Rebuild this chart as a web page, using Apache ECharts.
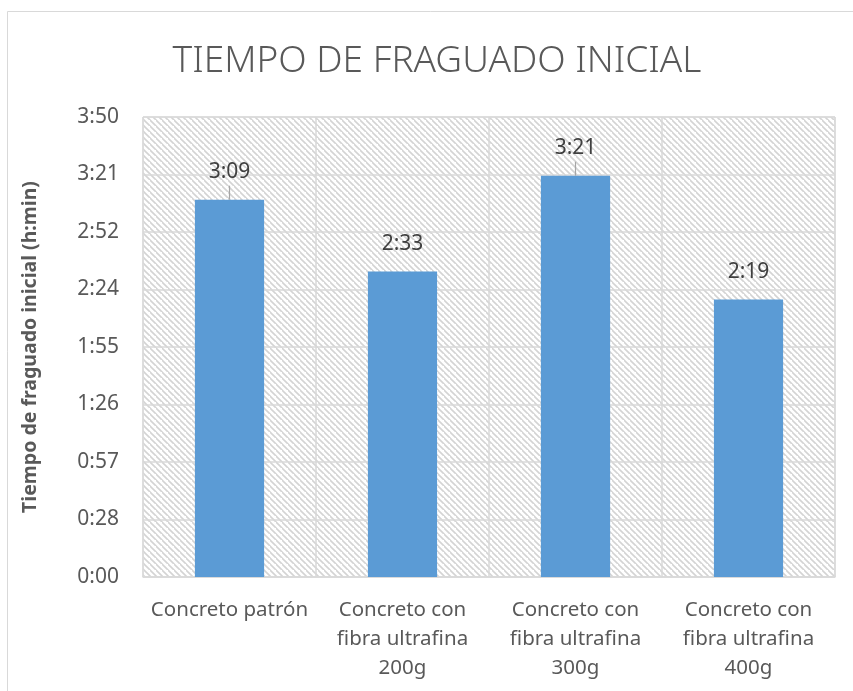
<!DOCTYPE html>
<html>
<head>
<meta charset="utf-8">
<script src="https://cdn.jsdelivr.net/npm/echarts@6/dist/echarts.min.js"></script>
<style>html,body{margin:0;padding:0;background:#fff}#c{width:853px;height:691px}</style>
</head>
<body>
<div id="c"></div>
<script>
// Data (minutes)
var categories = ['Concreto patrón', 'Concreto con\nfibra ultrafina\n200g', 'Concreto con\nfibra ultrafina\n300g', 'Concreto con\nfibra ultrafina\n400g'];
var values = [189, 153, 201, 139];          // 3:09, 2:33, 3:21, 2:19
var valueLabels = ['3:09', '2:33', '3:21', '2:19'];
var yTickLabels = ['0:00', '0:28', '0:57', '1:26', '1:55', '2:24', '2:52', '3:21', '3:50'];
var yStep = 28.8;  // minutes (0.02 day)
var leaderLines = [true, false, true, false];

function hatch() {
  var s = 6;
  var c = document.createElement('canvas');
  c.width = s; c.height = s;
  var g = c.getContext('2d');
  g.fillStyle = '#ffffff';
  g.fillRect(0, 0, s, s);
  g.strokeStyle = '#d4d4d4';
  g.lineWidth = 1.6;
  g.beginPath();
  g.moveTo(-1, -1); g.lineTo(s + 1, s + 1);
  g.moveTo(-s - 1, -1); g.lineTo(1, s + 1);
  g.moveTo(s - 1, -s - 1); g.lineTo(2 * s + 1, s + 1);
  g.stroke();
  return c;
}

var chart = echarts.init(document.getElementById('c'));
var FONT = 'Noto Sans';
chart.setOption({
  animation: false,
  backgroundColor: '#ffffff',
  graphic: [
    { type: 'rect', shape: { x: 7.5, y: 11.5, width: 900, height: 800 }, style: { fill: 'none', stroke: '#d9d9d9', lineWidth: 1 }, z: -10 },
    { type: 'text', x: 437, y: 61,
      style: { text: 'TIEMPO DE FRAGUADO INICIAL', font: '300 37px "Noto Sans"', fill: '#595959', textAlign: 'center', textVerticalAlign: 'middle' } }
  ],
  grid: {
    left: 143, right: 18, top: 117, bottom: 114,
    show: true,
    backgroundColor: { image: hatch(), repeat: 'repeat' },
    borderColor: '#d9d9d9', borderWidth: 1
  },
  xAxis: {
    type: 'category',
    data: categories,
    axisLine: { show: true, lineStyle: { color: '#d9d9d9', width: 1.5 } },
    axisTick: { show: false },
    splitLine: { show: true, lineStyle: { color: '#d9d9d9', width: 1.5 } },
    axisLabel: { fontFamily: FONT, fontSize: 20.5, color: '#595959', lineHeight: 29, margin: 19, interval: 0 }
  },
  yAxis: {
    type: 'value',
    min: 0, max: yStep * 8, interval: yStep,
    name: 'Tiempo de fraguado inicial (h:min)',
    nameLocation: 'middle',
    nameGap: 103,
    nameTextStyle: { fontFamily: FONT, fontSize: 19.5, fontWeight: 'bold', color: '#595959' },
    axisLine: { show: false },
    axisTick: { show: false },
    splitLine: { lineStyle: { color: '#d9d9d9', width: 1.5 } },
    axisLabel: {
      fontFamily: FONT, fontSize: 21, color: '#595959', margin: 24,
      formatter: function (v) { return yTickLabels[Math.round(v / yStep)]; }
    }
  },
  series: [{
    type: 'bar',
    barWidth: '40%',
    itemStyle: { color: '#5b9bd5' },
    data: values,
    label: {
      show: true, position: 'top', distance: 17,
      fontFamily: FONT, fontSize: 21, color: '#404040',
      formatter: function (p) { return valueLabels[p.dataIndex]; }
    }
  }, {
    type: 'custom',
    data: values.map(function (v, i) { return [i, v]; }),
    renderItem: function (params, api) {
      var i = api.value(0);
      if (!leaderLines[i]) return null;
      var p = api.coord([i, api.value(1)]);
      return { type: 'line', shape: { x1: p[0], y1: p[1], x2: p[0], y2: p[1] - 14 },
               style: { stroke: '#a6a6a6', lineWidth: 1.2 } };
    },
    z: 5
  }]
});
</script>
</body>
</html>
